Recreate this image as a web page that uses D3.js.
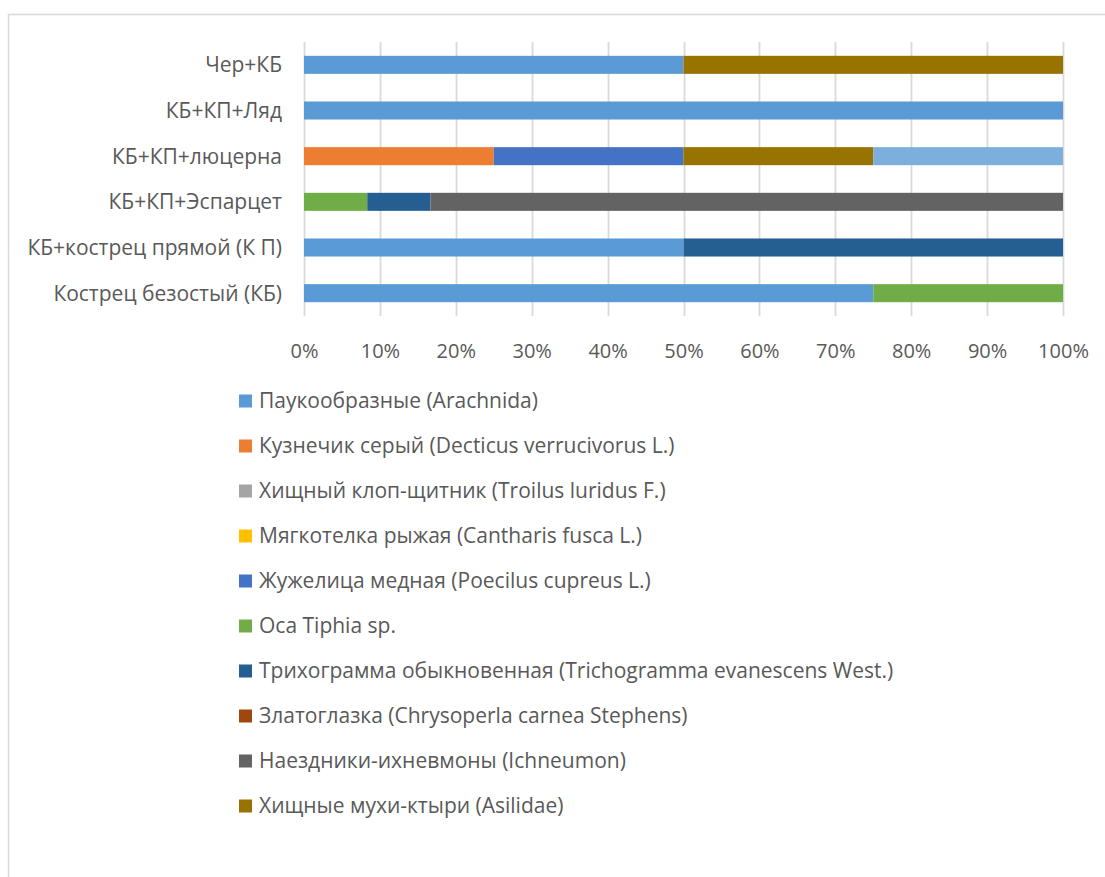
<!DOCTYPE html>
<html>
<head>
<meta charset="utf-8">
<script src="https://cdn.jsdelivr.net/npm/d3@7"></script>
<style>
  html, body { margin: 0; padding: 0; background: #fff; }
  svg { display: block; }
  text { font-family: "Open Sans", sans-serif; fill: #595959; }
</style>
</head>
<body>
<svg id="chart" width="1105" height="877"></svg>
<script>
// Sites (top to bottom as displayed)
const categories = [
  "Чер+КБ",
  "КБ+КП+Ляд",
  "КБ+КП+люцерна",
  "КБ+КП+Эспарцет",
  "КБ+кострец прямой (К П)",
  "Кострец безостый (КБ)"
];

// Species (stack order, left to right)
const seriesNames = [
  "Паукообразные (Arachnida)",
  "Кузнечик серый (Decticus verrucivorus L.)",
  "Хищный клоп-щитник (Troilus luridus F.)",
  "Мягкотелка рыжая (Cantharis fusca L.)",
  "Жужелица медная (Poecilus cupreus L.)",
  "Оса Tiphia sp.",
  "Трихограмма обыкновенная (Trichogramma evanescens West.)",
  "Златоглазка (Chrysoperla carnea Stephens)",
  "Наездники-ихневмоны (Ichneumon)",
  "Хищные мухи-ктыри (Asilidae)",
  "Прочие"
];

const seriesColors = [
  "#5B9BD5", "#ED7D31", "#A5A5A5", "#FFC000", "#4472C4",
  "#70AD47", "#255E91", "#9E480E", "#636363", "#997300", "#7CAFDD"
];

// Counts per site, one array per species (same order as categories)
const arachnida    = [1, 1, 0, 0, 1, 3];
const decticus     = [0, 0, 1, 0, 0, 0];
const troilus      = [0, 0, 0, 0, 0, 0];
const cantharis    = [0, 0, 0, 0, 0, 0];
const poecilus     = [0, 0, 1, 0, 0, 0];
const tiphia       = [0, 0, 0, 1, 0, 1];
const trichogramma = [0, 0, 0, 1, 1, 0];
const chrysoperla  = [0, 0, 0, 0, 0, 0];
const ichneumon    = [0, 0, 0, 10, 0, 0];
const asilidae     = [1, 0, 1, 0, 0, 0];
const others       = [0, 0, 1, 0, 0, 0];

const seriesValues = [arachnida, decticus, troilus, cantharis, poecilus,
  tiphia, trichogramma, chrysoperla, ichneumon, asilidae, others];

const xTicks = [0, 0.1, 0.2, 0.3, 0.4, 0.5, 0.6, 0.7, 0.8, 0.9, 1];
const legendCount = 10; // entries that fit in the legend area

const FONT = '"Open Sans", sans-serif';
const FONT_SIZE = 21;
const TICK_SIZE = 20;

// Build rows of shares
const rows = categories.map((c, i) => {
  const row = { category: c };
  const total = d3.sum(seriesValues, s => s[i]);
  seriesNames.forEach((n, k) => { row[n] = seriesValues[k][i] / total; });
  return row;
});

const stacked = d3.stack().keys(seriesNames)(rows);

const svg = d3.select("#chart");

// Chart frame
svg.append("rect")
  .attr("x", 8.5).attr("y", 14.5)
  .attr("width", 1120).attr("height", 900)
  .attr("fill", "#fff")
  .attr("stroke", "#d9d9d9")
  .attr("stroke-width", 1.5);

const plot = { left: 304, right: 1063, top: 42, bottom: 316 };

const x = d3.scaleLinear().domain([0, 1]).range([plot.left, plot.right]);
const y = d3.scaleBand().domain(categories)
  .range([plot.top, plot.bottom])
  .paddingInner(0.605).paddingOuter(0.3025);

// Vertical gridlines
svg.append("g")
  .selectAll("line")
  .data(xTicks)
  .join("line")
  .attr("x1", d => Math.round(x(d)) + 0.5)
  .attr("x2", d => Math.round(x(d)) + 0.5)
  .attr("y1", plot.top)
  .attr("y2", plot.bottom)
  .attr("stroke", "#d9d9d9")
  .attr("stroke-width", 1.8);

// Bars
svg.append("g")
  .selectAll("g")
  .data(stacked)
  .join("g")
  .attr("fill", (d, i) => seriesColors[i])
  .selectAll("rect")
  .data(d => d)
  .join("rect")
  .attr("x", d => x(d[0]))
  .attr("width", d => x(d[1]) - x(d[0]))
  .attr("y", d => y(d.data.category))
  .attr("height", y.bandwidth());

// X axis labels
const gx = svg.append("g")
  .attr("transform", `translate(0, ${plot.bottom})`)
  .call(d3.axisBottom(x)
    .tickValues(xTicks)
    .tickFormat(d3.format(".0%"))
    .tickSize(0)
    .tickPadding(0));
gx.select(".domain").remove();
gx.selectAll("text")
  .attr("dy", "0.35em")
  .attr("y", 35)
  .attr("font-size", TICK_SIZE)
  .style("font-family", FONT)
  .attr("fill", "#595959");

// Y axis labels
const gy = svg.append("g")
  .attr("transform", "translate(282, 0)")
  .call(d3.axisLeft(y).tickSize(0).tickPadding(0));
gy.select(".domain").remove();
gy.selectAll("text")
  .attr("dy", "0.35em")
  .attr("font-size", FONT_SIZE)
  .style("font-family", FONT)
  .attr("fill", "#595959");

// Legend
const legend = svg.append("g")
  .selectAll("g")
  .data(seriesNames.slice(0, legendCount))
  .join("g")
  .attr("transform", (d, i) => `translate(239, ${401 + i * 45})`);

legend.append("rect")
  .attr("x", 0).attr("y", -6.5)
  .attr("width", 13).attr("height", 13)
  .attr("fill", (d, i) => seriesColors[i]);

legend.append("text")
  .attr("x", 20)
  .attr("dy", "0.35em")
  .attr("font-size", FONT_SIZE)
  .text(d => d);
</script>
</body>
</html>
